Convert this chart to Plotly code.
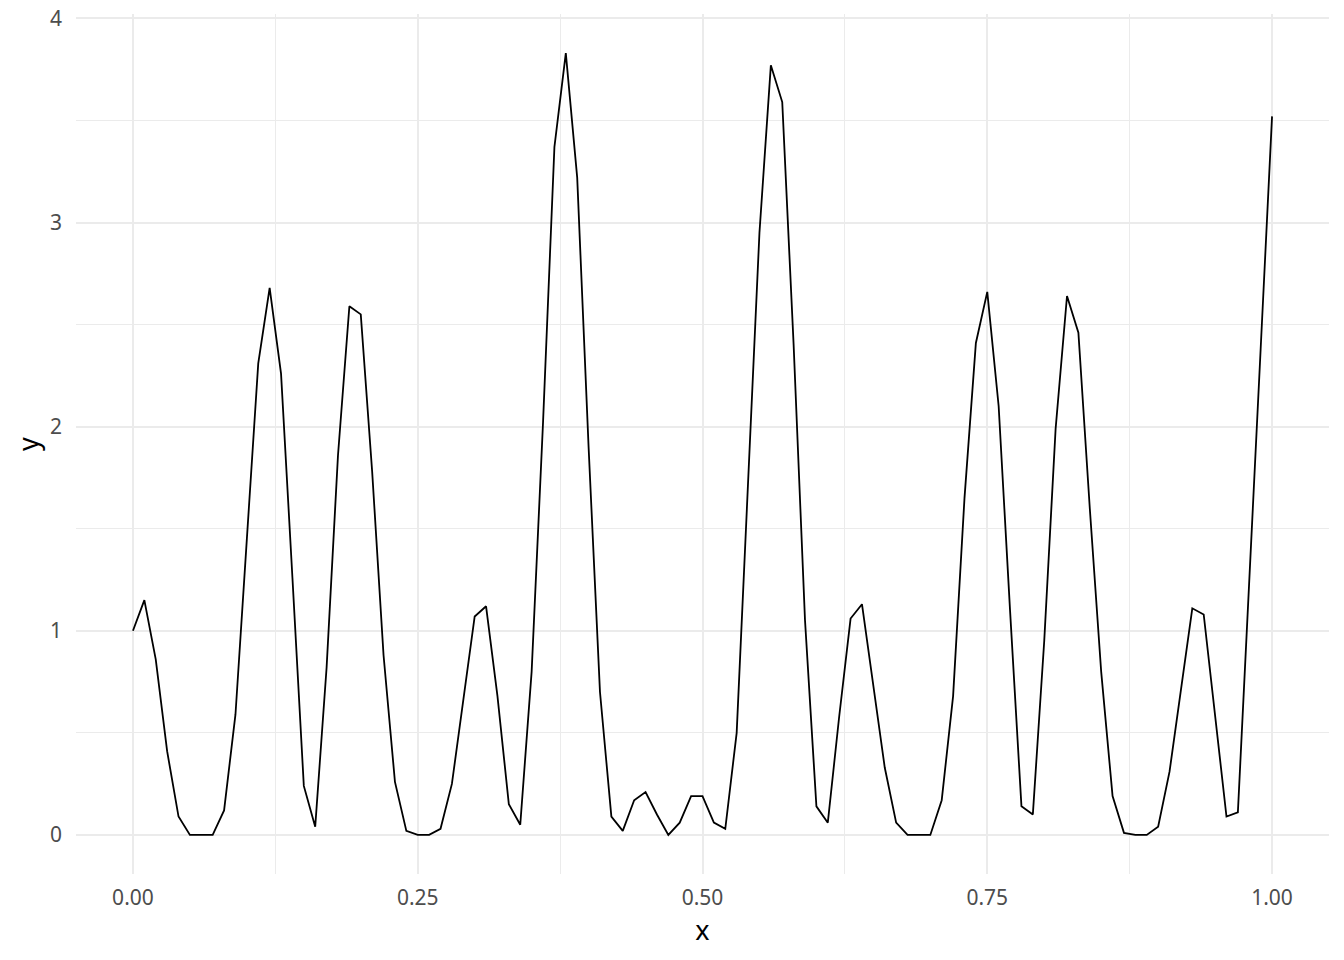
import plotly.graph_objects as go

# values, x step 0.01
x_vals = [
    0.00, 0.01, 0.02, 0.03, 0.04, 0.05, 0.06, 0.07, 0.08, 0.09,
    0.10, 0.11, 0.12, 0.13, 0.14, 0.15, 0.16, 0.17, 0.18, 0.19,
    0.20, 0.21, 0.22, 0.23, 0.24, 0.25, 0.26, 0.27, 0.28, 0.29,
    0.30, 0.31, 0.32, 0.33, 0.34, 0.35, 0.36, 0.37, 0.38, 0.39,
    0.40, 0.41, 0.42, 0.43, 0.44, 0.45, 0.46, 0.47, 0.48, 0.49,
    0.50, 0.51, 0.52, 0.53, 0.54, 0.55, 0.56, 0.57, 0.58, 0.59,
    0.60, 0.61, 0.62, 0.63, 0.64, 0.65, 0.66, 0.67, 0.68, 0.69,
    0.70, 0.71, 0.72, 0.73, 0.74, 0.75, 0.76, 0.77, 0.78, 0.79,
    0.80, 0.81, 0.82, 0.83, 0.84, 0.85, 0.86, 0.87, 0.88, 0.89,
    0.90, 0.91, 0.92, 0.93, 0.94, 0.95, 0.96, 0.97, 0.98, 0.99,
    1.00,
]
y_vals = [
    1.00, 1.15, 0.86, 0.41, 0.09, 0.00, 0.00, 0.00, 0.12, 0.59,
    1.45, 2.31, 2.68, 2.26, 1.26, 0.24, 0.04, 0.82, 1.86, 2.59,
    2.55, 1.78, 0.88, 0.26, 0.02, 0.00, 0.00, 0.03, 0.25, 0.65,
    1.07, 1.12, 0.68, 0.15, 0.05, 0.80, 2.02, 3.37, 3.83, 3.22,
    1.90, 0.70, 0.09, 0.02, 0.17, 0.21, 0.10, 0.00, 0.06, 0.19,
    0.19, 0.06, 0.03, 0.50, 1.70, 2.95, 3.77, 3.59, 2.40, 1.05,
    0.14, 0.06, 0.58, 1.06, 1.13, 0.74, 0.33, 0.06, 0.00, 0.00,
    0.00, 0.17, 0.68, 1.65, 2.41, 2.66, 2.10, 1.10, 0.14, 0.10,
    0.95, 1.99, 2.64, 2.46, 1.60, 0.80, 0.19, 0.01, 0.00, 0.00,
    0.04, 0.31, 0.72, 1.11, 1.08, 0.60, 0.09, 0.11, 1.22, 2.38,
    3.52,
]

x_ticks = [0.0, 0.25, 0.5, 0.75, 1.0]
x_tick_labels = ["0.00", "0.25", "0.50", "0.75", "1.00"]
y_ticks = [0, 1, 2, 3, 4]
y_tick_labels = ["0", "1", "2", "3", "4"]


def padded(lo, hi, frac=0.05):
    span = hi - lo
    return [lo - span * frac, hi + span * frac]


grid = "#EBEBEB"
font = "Noto Sans"

fig = go.Figure(
    data=[
        go.Scatter(
            x=x_vals,
            y=y_vals,
            mode="lines",
            line=dict(color="black", width=1.8),
            showlegend=False,
            hoverinfo="skip",
        )
    ]
)

fig.update_layout(
    width=1344,
    height=960,
    paper_bgcolor="white",
    plot_bgcolor="white",
    margin=dict(l=76, r=15, t=14, b=86),
    font=dict(family=font, color="#4D4D4D"),
    xaxis=dict(
        range=padded(min(x_vals), max(x_vals)),
        tickvals=x_ticks,
        ticktext=x_tick_labels,
        tickfont=dict(size=21, color="#4D4D4D"),
        ticklabelstandoff=9,
        showgrid=True,
        gridcolor=grid,
        gridwidth=2,
        zeroline=False,
        showline=False,
        ticks="",
        automargin=False,
        minor=dict(tickvals=[0.125, 0.375, 0.625, 0.875], showgrid=True,
                   gridcolor=grid, gridwidth=1),
        title=dict(text="x", font=dict(size=27, color="black"), standoff=10),
    ),
    yaxis=dict(
        range=padded(0, max(y_vals)),
        tickvals=y_ticks,
        ticktext=y_tick_labels,
        tickfont=dict(size=21, color="#4D4D4D"),
        ticklabelstandoff=13,
        showgrid=True,
        gridcolor=grid,
        gridwidth=2,
        zeroline=False,
        showline=False,
        ticks="",
        automargin=False,
        minor=dict(tickvals=[0.5, 1.5, 2.5, 3.5], showgrid=True,
                   gridcolor=grid, gridwidth=1),
        title=dict(text="y", font=dict(size=27, color="black"), standoff=3),
    ),
)

# page body margin would shift the plot by 8px
fig.write_html(
    "out.html",
    config={"displayModeBar": False},
    post_script="document.body.style.margin='0';",
)
